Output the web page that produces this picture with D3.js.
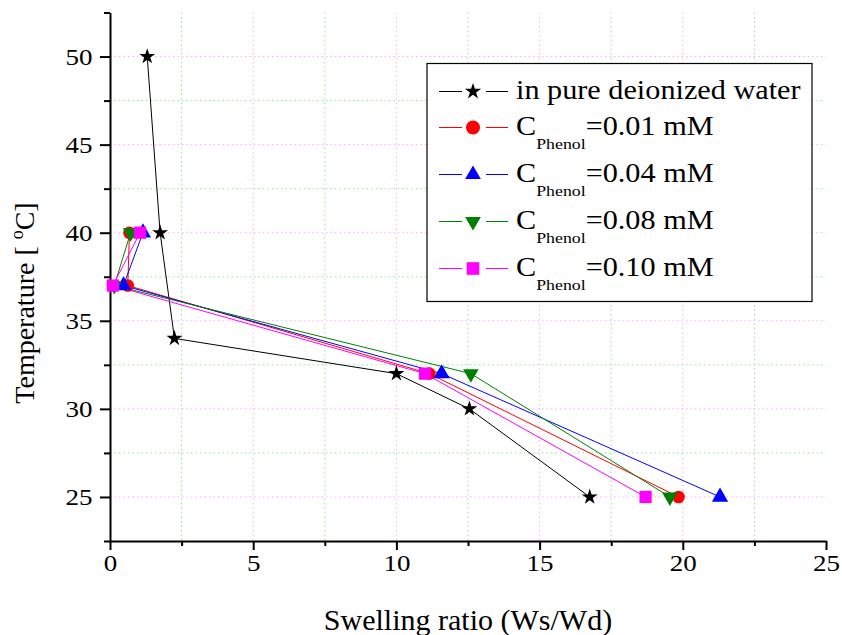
<!DOCTYPE html>
<html lang="en">
<head>
<meta charset="UTF-8">
<title>Swelling ratio vs temperature</title>
<script src="https://d3js.org/d3.v7.min.js"></script>
<style>
  body { margin: 0; background: #fff; }
  svg { display: block; font-family: "Liberation Serif", "Times New Roman", serif; }
</style>
</head>
<body>
<svg width="842" height="635"></svg>
<script>
// data
const xTicks = [0, 5, 10, 15, 20, 25];
const xMinor = [2.5, 7.5, 12.5, 17.5, 22.5];
const yTicks = [25, 30, 35, 40, 45, 50];
const yMinor = [22.5, 27.5, 32.5, 37.5, 42.5, 47.5, 52.5];

const waterX = [1.3, 1.75, 2.25, 10.0, 12.55, 16.75];
const waterY = [50, 40, 34, 32, 30, 25];

const phenolY = [40, 37, 32, 25];
const c001X = [0.68, 0.62, 11.15, 19.85];
const c004X = [1.15, 0.47, 11.58, 21.3];
const c008X = [0.72, 0.15, 12.6, 19.55];
const c010X = [1.05, 0.1, 11.0, 18.7];

const seriesNames = ["in pure deionized water", "0.01 mM", "0.04 mM", "0.08 mM", "0.10 mM"];
const colors = ["#000000", "#ff0000", "#0000ff", "#008000", "#ff00ff"];
const shapes = ["star", "circle", "triangle", "down", "square"];

let series = [
  {x: waterX, y: waterY},
  {x: c001X, y: phenolY},
  {x: c004X, y: phenolY},
  {x: c008X, y: phenolY},
  {x: c010X, y: phenolY}
].map(function (s, i) {
  return {
    name: seriesNames[i], color: colors[i], shape: shapes[i],
    pts: s.x.map(function (v, j) { return {x: v, y: s.y[j]}; })
  };
});

let svg = d3.select("svg");
let plot = {left: 110, right: 826, top: 12.5, bottom: 541};
let stretch = 1.15; // text in the picture is a bit wider than it is tall

let xscale = d3.scaleLinear().domain([0, 25]).range([plot.left, plot.right]);
let yscale = d3.scaleLinear().domain([22.5, 52.5]).range([plot.bottom, plot.top]);

// grid: pink at major, green at minor
let grid = svg.append("g");
grid.selectAll(".gxM").data(xTicks.filter(function (d) { return d > 0 && d < 25; }))
  .enter().append("line")
  .attr("x1", d => xscale(d)).attr("x2", d => xscale(d))
  .attr("y1", plot.top).attr("y2", plot.bottom)
  .attr("stroke", "#ffaaff").attr("stroke-dasharray", "1.5,3");
grid.selectAll(".gxm").data(xMinor).enter().append("line")
  .attr("x1", d => xscale(d)).attr("x2", d => xscale(d))
  .attr("y1", plot.top).attr("y2", plot.bottom)
  .attr("stroke", "#88ee88").attr("stroke-dasharray", "1.5,3");
grid.selectAll(".gyM").data(yTicks).enter().append("line")
  .attr("y1", d => yscale(d)).attr("y2", d => yscale(d))
  .attr("x1", plot.left).attr("x2", plot.right)
  .attr("stroke", "#ffaaff").attr("stroke-dasharray", "1.5,3");
grid.selectAll(".gym").data(yMinor.filter(function (d) { return d > 22.5 && d < 52.5; }))
  .enter().append("line")
  .attr("y1", d => yscale(d)).attr("y2", d => yscale(d))
  .attr("x1", plot.left).attr("x2", plot.right)
  .attr("stroke", "#88ee88").attr("stroke-dasharray", "1.5,3");

// axes
function styleAxis(g) {
  g.selectAll("path, line").attr("stroke", "#000").attr("stroke-width", 2);
  g.selectAll("text").attr("font-family", "Liberation Serif").attr("font-size", 23.5).attr("fill", "#000");
}
let xAxis = svg.append("g").attr("transform", "translate(0," + plot.bottom + ")")
  .call(d3.axisBottom(xscale).tickValues(xTicks).tickSize(9).tickSizeOuter(0).tickPadding(4));
styleAxis(xAxis);
xAxis.selectAll("text").attr("transform", "scale(" + stretch + ",1)");
let xAxisMinor = svg.append("g").attr("transform", "translate(0," + plot.bottom + ")")
  .call(d3.axisBottom(xscale).tickValues(xMinor).tickSize(5).tickFormat(""));
xAxisMinor.select(".domain").remove();
styleAxis(xAxisMinor);

let yAxis = svg.append("g").attr("transform", "translate(" + plot.left + ",0)")
  .call(d3.axisLeft(yscale).tickValues(yTicks).tickSize(10).tickSizeOuter(0));
styleAxis(yAxis);
yAxis.selectAll("text").attr("x", -17.5 / stretch).attr("transform", "scale(" + stretch + ",1)");
let yAxisMinor = svg.append("g").attr("transform", "translate(" + plot.left + ",0)")
  .call(d3.axisLeft(yscale).tickValues(yMinor).tickSize(6).tickFormat(""));
yAxisMinor.select(".domain").remove();
styleAxis(yAxisMinor);

// axis titles
svg.append("text")
  .attr("x", (plot.left + plot.right) / 2).attr("y", 630)
  .attr("text-anchor", "middle").attr("font-size", 30)
  .text("Swelling ratio (Ws/Wd)");

let yt = svg.append("text")
  .attr("transform", "translate(34,303) rotate(-90)")
  .attr("text-anchor", "middle").attr("font-size", 28);
yt.append("tspan").text("Temperature [ ");
yt.append("tspan").attr("font-size", 18).attr("dy", -11).text("o");
yt.append("tspan").attr("dy", 11).text("C]");

// symbols
const plotSize = {star: 78, circle: 125, triangle: 115, down: 105, square: 150};
const legendSize = {star: 82, circle: 154, triangle: 107, down: 107, square: 160};
function symbolPath(shape, size) {
  let type = {star: d3.symbolStar, circle: d3.symbolCircle, square: d3.symbolSquare,
              triangle: d3.symbolTriangle, down: d3.symbolTriangle}[shape];
  return d3.symbol(type, size)();
}

let line = d3.line().x(d => xscale(d.x)).y(d => yscale(d.y));

svg.append("g").selectAll("path").data(series).enter().append("path")
  .attr("d", d => line(d.pts))
  .attr("fill", "none").attr("stroke", d => d.color).attr("stroke-width", 1);

series.forEach(function (s) {
  svg.append("g").selectAll("path").data(s.pts).enter().append("path")
    .attr("d", symbolPath(s.shape, plotSize[s.shape]))
    .attr("transform", function (d) {
      let t = "translate(" + xscale(d.x) + "," + yscale(d.y) + ")";
      return s.shape === "down" ? t + " rotate(180)" : t;
    })
    .attr("fill", s.color);
});

// legend
let legend = svg.append("g");
legend.append("rect")
  .attr("x", 427).attr("y", 63.5).attr("width", 385).attr("height", 238)
  .attr("fill", "#fff").attr("stroke", "#000").attr("stroke-width", 1.2);

let rowY = [91.5, 127.5, 174.5, 221.5, 268.5];
series.forEach(function (s, i) {
  let g = legend.append("g").attr("transform", "translate(0," + rowY[i] + ")");
  g.append("line").attr("x1", 439).attr("x2", 462).attr("stroke", s.color).attr("stroke-width", 1);
  g.append("line").attr("x1", 486).attr("x2", 508).attr("stroke", s.color).attr("stroke-width", 1);
  g.append("path")
    .attr("d", symbolPath(s.shape, legendSize[s.shape]))
    .attr("transform", "translate(473,0)" + (s.shape === "down" ? " rotate(180)" : ""))
    .attr("fill", s.color);
  let t = g.append("text").attr("x", 516 / stretch).attr("y", 7.5).attr("font-size", 26.3)
    .attr("transform", "scale(" + stretch + ",1)");
  if (i === 0) {
    t.text(s.name);
  } else {
    t.append("tspan").text("C");
    t.append("tspan").attr("font-size", 15.5).attr("dy", 14).text("Phenol");
    t.append("tspan").attr("dy", -14).text("=" + s.name);
  }
});
</script>
</body>
</html>
